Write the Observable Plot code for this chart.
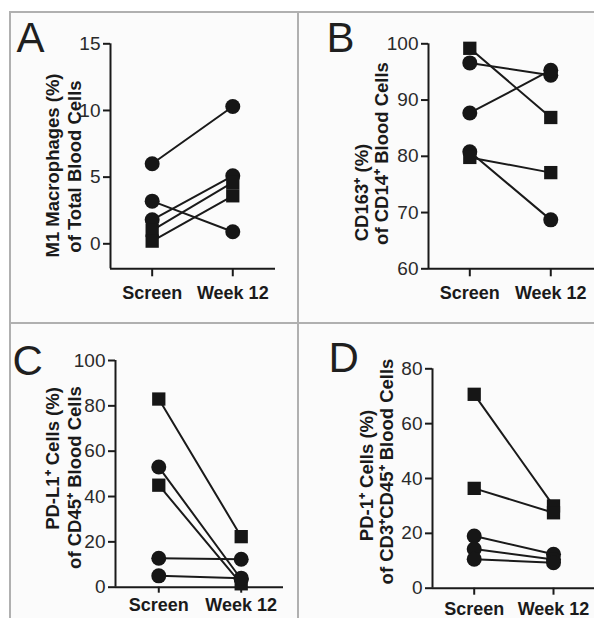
<!DOCTYPE html>
<html>
<head>
<meta charset="utf-8">
<script src="https://cdn.jsdelivr.net/npm/d3@7"></script>
<script src="https://cdn.jsdelivr.net/npm/@observablehq/plot@0.6"></script>
<style>
  html, body { margin: 0; padding: 0; background: #ffffff; }
  #fig { position: relative; width: 594px; height: 618px; overflow: hidden; background: #ffffff; font-family: "Liberation Sans", Arial, sans-serif; }
  .inner { position: absolute; left: 10px; top: 12px; right: 0; bottom: 0; background: #fbfbfb; }
  .line { position: absolute; background: #b0b0b0; }
  .pan { position: absolute; }
  .pan svg { display: block; overflow: visible; }
  .pan svg, .pan svg text, .pan svg g { font-family: "Liberation Sans", Arial, sans-serif !important; }
  .pan [aria-label="x-axis tick label"] text { font-weight: bold; }
  .pan [aria-label="y-axis tick label"] text { fill: #2a2a2a; }
</style>
</head>
<body>
<div id="fig">
  <div class="inner"></div>
  <div class="line" style="left:9px;top:11px;width:585px;height:2px"></div>
  <div class="line" style="left:9px;top:11px;width:2px;height:607px"></div>
  <div class="line" style="left:297px;top:11px;width:2px;height:607px"></div>
  <div class="line" style="left:9px;top:322px;width:585px;height:2px"></div>
  <div class="pan" id="pA" style="left:10px;top:12px"></div>
  <div class="pan" id="pB" style="left:298px;top:12px"></div>
  <div class="pan" id="pC" style="left:10px;top:323px"></div>
  <div class="pan" id="pD" style="left:298px;top:323px"></div>
</div>
<script>
const timepoints = ["Screen", "Week 12"];

// Panel A: M1 macrophages (% of total blood cells)
const aScreen = [6.0, 3.2, 1.8, 1.0, 0.2];
const aWeek12 = [10.3, 0.9, 5.1, 4.6, 3.6];
const aGroup  = ["circle", "circle", "circle", "square", "square"];
const aTicks  = [0, 5, 10, 15];

// Panel B: CD163+ (% of CD14+ blood cells)
const bScreen = [99.2, 96.6, 87.7, 80.8, 79.8];
const bWeek12 = [86.9, 94.4, 95.3, 68.7, 77.1];
const bGroup  = ["square", "circle", "circle", "circle", "square"];
const bTicks  = [60, 70, 80, 90, 100];

// Panel C: PD-L1+ cells (% of CD45+ blood cells)
const cScreen = [83.0, 53.0, 45.0, 12.8, 5.0];
const cWeek12 = [22.3, 3.5, 1.5, 12.3, 4.0];
const cGroup  = ["square", "circle", "square", "circle", "circle"];
const cTicks  = [0, 20, 40, 60, 80, 100];

// Panel D: PD-1+ cells (% of CD3+CD45+ blood cells)
const dScreen = [70.7, 36.4, 19.0, 14.3, 10.6];
const dWeek12 = [30.0, 27.5, 12.4, 10.5, 9.3];
const dGroup  = ["square", "square", "circle", "circle", "circle"];
const dTicks  = [0, 20, 40, 60, 80];

function pairs(screen, week, group) {
  const rows = [];
  screen.forEach((v, i) => {
    rows.push({id: i, t: 0, v: v, g: group[i]});
    rows.push({id: i, t: 1, v: week[i], g: group[i]});
  });
  return rows;
}

function panel(el, cfg) {
  const {w, h, ml, mr, mt, mb, xdom, ydom, ticks, data, letter, letterPos, l1, l2, l1Pos, l2Pos, ox, oy, xTick, xPad} = cfg;
  const midY = (mt + (h - mb)) / 2;
  const txt = (s, pos) => Plot.text([s], {
    text: d => d, frameAnchor: "left",
    dx: pos[0] - ox - ml, dy: pos[1] - oy - midY,
    rotate: -90, fontSize: 18.5, fontWeight: "bold",
    textAnchor: "middle", lineAnchor: "middle", fill: "#1a1a1a"
  });
  const chart = Plot.plot({
    width: w, height: h,
    marginLeft: ml, marginRight: mr, marginTop: mt, marginBottom: mb,
    x: {domain: xdom, axis: null},
    y: {domain: ydom, axis: null},
    symbol: {domain: ["circle", "square"], range: ["circle", "square"]},
    style: {background: "transparent", overflow: "visible", color: "#1a1a1a"},
    marks: [
      Plot.ruleX([xdom[0]], {y1: ydom[0], y2: ydom[1], stroke: "#1a1a1a", strokeWidth: 2}),
      Plot.ruleY([ydom[0]], {stroke: "#1a1a1a", strokeWidth: 2}),
      Plot.axisY({ticks: ticks, tickSize: 7, tickPadding: 3, fontSize: 19, strokeWidth: 2, label: null}),
      Plot.axisX({ticks: [0, 1], tickFormat: i => timepoints[i], tickSize: xTick, tickPadding: xPad,
                  fontSize: 18, strokeWidth: 2, label: null}),
      Plot.line(data, {x: "t", y: "v", z: "id", stroke: "#1a1a1a", strokeWidth: 2}),
      Plot.dot(data, {x: "t", y: "v", symbol: "g", r: 7.5, fill: "#161616", stroke: "none"}),
      txt(l1, l1Pos),
      txt(l2, l2Pos),
      Plot.text([letter], {text: d => d, frameAnchor: "top-left",
        dx: letterPos[0] - ox - ml, dy: letterPos[1] - oy - mt,
        fontSize: 42, textAnchor: "start", lineAnchor: "top", fill: "#1f1f1f"})
    ]
  });
  document.getElementById(el).appendChild(chart);
}

panel("pA", {
  ox: 10, oy: 12, w: 288, h: 311, ml: 100, mr: 23, mt: 31.3, mb: 54.7,
  xdom: [-0.517, 1.53], ydom: [-1.875, 15], ticks: aTicks,
  data: pairs(aScreen, aWeek12, aGroup), xTick: 8, xPad: 9,
  letter: "A", letterPos: [16, 22],
  l1: "M1 Macrophages (%)", l1Pos: [53, 165],
  l2: "of Total Blood Cells", l2Pos: [75, 166]
});

panel("pB", {
  ox: 298, oy: 12, w: 296, h: 311, ml: 130, mr: 0, mt: 31.3, mb: 54.7,
  xdom: [-0.51, 1.54], ydom: [60, 100], ticks: bTicks,
  data: pairs(bScreen, bWeek12, bGroup), xTick: 8, xPad: 9,
  letter: "B", letterPos: [326, 22],
  l1: "CD163\u207A (%)", l1Pos: [362, 192],
  l2: "of CD14\u207A Blood Cells", l2Pos: [382, 153]
});

panel("pC", {
  ox: 10, oy: 323, w: 288, h: 295, ml: 105, mr: 15, mt: 37, mb: 31.3,
  xdom: [-0.525, 1.513], ydom: [0, 100], ticks: cTicks,
  data: pairs(cScreen, cWeek12, cGroup), xTick: 6, xPad: 5,
  letter: "C", letterPos: [12, 345],
  l1: "PD-L1\u207A Cells (%)", l1Pos: [53, 458],
  l2: "of CD45\u207A Blood Cells", l2Pos: [75, 477]
});

panel("pD", {
  ox: 298, oy: 323, w: 296, h: 295, ml: 134, mr: 0, mt: 45.3, mb: 30.3,
  xdom: [-0.526, 1.517], ydom: [0, 80], ticks: dTicks,
  data: pairs(dScreen, dWeek12, dGroup), xTick: 7, xPad: 7,
  letter: "D", letterPos: [328, 342],
  l1: "PD-1\u207A Cells (%)", l1Pos: [367, 475],
  l2: "of CD3\u207ACD45\u207A Blood Cells", l2Pos: [387, 471]
});
</script>
</body>
</html>
